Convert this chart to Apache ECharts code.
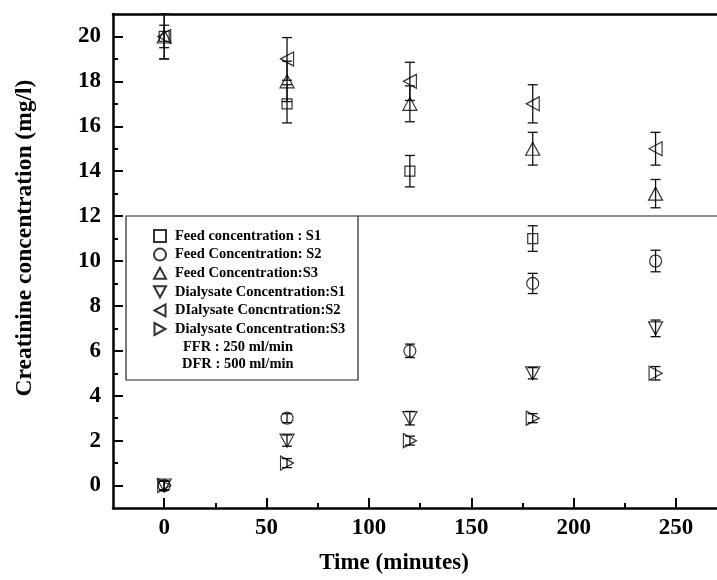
<!DOCTYPE html>
<html>
<head>
<meta charset="utf-8">
<script src="https://cdn.jsdelivr.net/npm/echarts@6/dist/echarts.min.js"></script>
<style>html,body{margin:0;padding:0;background:#fff;}#c{width:717px;height:580px;}</style>
</head>
<body>
<div id="c"></div>
<script>
// ---- data ----
const times = [0, 60, 120, 180, 240];
const feedS1 = [20, 17, 14, 11, null];
const feedS2 = [0, 3, 6, 9, 10];
const feedS3 = [20, 18, 17, 15, 13];
const dialS1 = [0, 2, 3, 5, 7];
const dialS2 = [20, 19, 18, 17, 15];
const dialS3 = [0, 1, 2, 3, 5];
const feedS1Err = [1, 0.85, 0.7, 0.57, null];
const feedS2Err = [0.2, 0.2, 0.3, 0.45, 0.48];
const feedS3Err = [0.5, 0.9, 0.8, 0.73, 0.63];
const dialS1Err = [0.2, 0.25, 0.3, 0.25, 0.37];
const dialS2Err = [1, 0.95, 0.85, 0.85, 0.73];
const dialS3Err = [0.2, 0.2, 0.2, 0.2, 0.3];
const seriesNames = ['Feed concentration : S1', 'Feed Concentration: S2', 'Feed Concentration:S3',
  'Dialysate Concentration:S1', 'DIalysate Concntration:S2', 'Dialysate Concentration:S3'];
const xMajorTicks = [0, 50, 100, 150, 200, 250];
const xMinorTicks = [25, 75, 125, 175, 225];
const yMajorTicks = [0, 2, 4, 6, 8, 10, 12, 14, 16, 18, 20];
const yMinorTicks = [1, 3, 5, 7, 9, 11, 13, 15, 17, 19];
const noteLines = ['FFR : 250 ml/min', 'DFR : 500 ml/min'];

const FONT = '"Liberation Serif", "Times New Roman", serif';
const allVals = [feedS1, feedS2, feedS3, dialS1, dialS2, dialS3];
const allErr = [feedS1Err, feedS2Err, feedS3Err, dialS1Err, dialS2Err, dialS3Err];
const TRI_UP = 'path://M6,0 L12,11 L0,11 Z';
const TRI_DOWN = 'path://M0,0 L12,0 L6,11 Z';
const TRI_LEFT = 'path://M0,6 L11,0 L11,12 Z';
const TRI_RIGHT = 'path://M0,0 L11,6 L0,12 Z';
const symbols = [
  {symbol: 'rect', size: [10, 10], icon: 'rect'},
  {symbol: 'circle', size: [12, 12], icon: 'circle'},
  {symbol: TRI_UP, size: [14, 13], icon: TRI_UP},
  {symbol: TRI_DOWN, size: [14, 13], icon: TRI_DOWN},
  {symbol: TRI_LEFT, size: [13, 14], icon: TRI_LEFT},
  {symbol: TRI_RIGHT, size: [13, 14], icon: TRI_RIGHT}
];

const errData = [];
allVals.forEach((vals, si) => {
  vals.forEach((v, i) => {
    if (v == null || allErr[si][i] == null) return;
    errData.push([times[i], v - allErr[si][i], v + allErr[si][i]]);
  });
});

const chart = echarts.init(document.getElementById('c'), null, {renderer: 'canvas'});
const xRange = {min: -25, max: 270};
const yRange = {min: -1, max: 21};
const option = {
  animation: false,
  backgroundColor: '#fff',
  grid: {left: 113, top: 14, right: -1, bottom: 72, containLabel: false},
  xAxis: [
    {type: 'value', position: 'bottom', ...xRange,
      name: 'Time (minutes)', nameLocation: 'middle', nameGap: 44,
      nameTextStyle: {fontFamily: FONT, fontWeight: 'bold', fontSize: 23, color: '#000', padding: [0, 42, 0, 0]},
      axisLine: {show: true, onZero: false, lineStyle: {color: '#000', width: 2.5}},
      axisTick: {show: true, inside: true, length: 10, lineStyle: {color: '#000', width: 2}, customValues: xMajorTicks},
      axisLabel: {show: true, customValues: xMajorTicks, margin: 9, fontFamily: FONT, fontWeight: 'bold', fontSize: 23, color: '#000'},
      splitLine: {show: false}},
    {type: 'value', position: 'bottom', ...xRange,
      axisLine: {show: false, onZero: false},
      axisTick: {show: true, inside: true, length: 5, lineStyle: {color: '#000', width: 2}, customValues: xMinorTicks},
      axisLabel: {show: false}, splitLine: {show: false}},
    {type: 'value', position: 'top', ...xRange,
      axisLine: {show: true, onZero: false, lineStyle: {color: '#000', width: 2.5}},
      axisTick: {show: false}, axisLabel: {show: false}, splitLine: {show: false}}
  ],
  yAxis: [
    {type: 'value', position: 'left', ...yRange,
      name: 'Creatinine concentration (mg/l)', nameLocation: 'middle', nameGap: 76,
      nameTextStyle: {fontFamily: FONT, fontWeight: 'bold', fontSize: 23.5, color: '#000', padding: [0, 0, 0, 46]},
      axisLine: {show: true, onZero: false, lineStyle: {color: '#000', width: 2.5}},
      axisTick: {show: true, inside: true, length: 10, lineStyle: {color: '#000', width: 2}, customValues: yMajorTicks},
      axisLabel: {show: true, customValues: yMajorTicks, margin: 12, fontFamily: FONT, fontWeight: 'bold', fontSize: 23, color: '#000'},
      splitLine: {show: false}},
    {type: 'value', position: 'left', ...yRange,
      axisLine: {show: false, onZero: false},
      axisTick: {show: true, inside: true, length: 5, lineStyle: {color: '#000', width: 2}, customValues: yMinorTicks},
      axisLabel: {show: false}, splitLine: {show: false}}
  ],
  legend: {
    data: seriesNames.map((n, i) => ({name: n, icon: symbols[i].icon})),
    orient: 'vertical', left: 148, top: 223.5,
    itemWidth: 12, itemHeight: 12, itemGap: 3.6,
    textStyle: {fontFamily: FONT, fontWeight: 'bold', fontSize: 14.5, color: '#000', padding: [0, 0, 0, 4]},
    inactiveColor: '#000'
  },
  graphic: [
    {type: 'rect', shape: {x: 126, y: 216, width: 232, height: 164}, style: {fill: 'transparent', stroke: '#222', lineWidth: 1.2}, z: 100},
    {type: 'line', shape: {x1: 358, y1: 216, x2: 717, y2: 216}, style: {stroke: '#222', lineWidth: 1.2}, z: 100},
    {type: 'text', left: 183, top: 340, style: {text: noteLines[0], font: 'bold 14.5px ' + FONT, fill: '#000'}, z: 100},
    {type: 'text', left: 182, top: 357, style: {text: noteLines[1], font: 'bold 14.5px ' + FONT, fill: '#000'}, z: 100}
  ],
  series: [
    {type: 'custom', name: 'err', xAxisIndex: 0, yAxisIndex: 0, z: 2,
      data: errData,
      renderItem: function (params, api) {
        const x = api.value(0), lo = api.value(1), hi = api.value(2);
        const p1 = api.coord([x, hi]), p2 = api.coord([x, lo]);
        const w = 5;
        const st = {stroke: '#111', lineWidth: 1.3};
        return {type: 'group', children: [
          {type: 'line', shape: {x1: p1[0], y1: p1[1], x2: p2[0], y2: p2[1]}, style: st},
          {type: 'line', shape: {x1: p1[0] - w, y1: p1[1], x2: p1[0] + w, y2: p1[1]}, style: st},
          {type: 'line', shape: {x1: p2[0] - w, y1: p2[1], x2: p2[0] + w, y2: p2[1]}, style: st}
        ]};
      }}
  ].concat(allVals.map((vals, si) => ({
    type: 'scatter', name: seriesNames[si], xAxisIndex: 0, yAxisIndex: 0, z: 3,
    symbol: symbols[si].symbol, symbolSize: symbols[si].size,
    itemStyle: {color: 'rgba(255,255,255,0)', borderColor: '#000', borderWidth: 1.2},
    data: times.map((t, i) => vals[i] == null ? null : [t, vals[i]]).filter(d => d)
  })))
};
chart.setOption(option);
</script>
</body>
</html>
